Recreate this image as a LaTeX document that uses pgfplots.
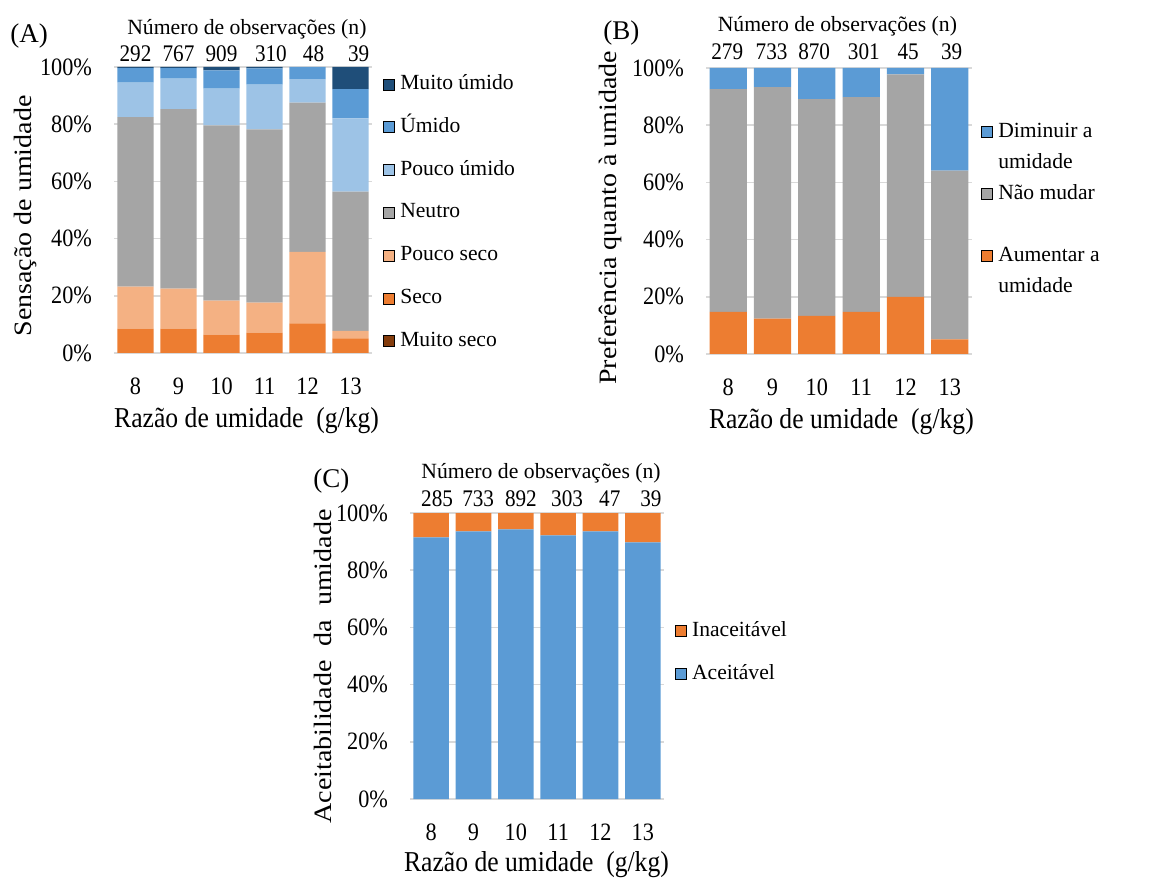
\documentclass[border=0pt]{standalone}
\usepackage{fontspec}
\setmainfont{Liberation Serif}
\newfontfamily\nf{Liberation Serif}[FakeStretch=0.89]
\newfontfamily\wf{Liberation Serif}[FakeStretch=1.12]
\usepackage{pgfplots}
\usepackage{pgfplotstable}
\pgfplotsset{compat=1.18}

\definecolor{mu}{HTML}{1F4E79}
\definecolor{um}{HTML}{5B9BD5}
\definecolor{pu}{HTML}{9DC3E6}
\definecolor{ne}{HTML}{A5A5A5}
\definecolor{ps}{HTML}{F4B183}
\definecolor{se}{HTML}{ED7D31}
\definecolor{ms}{HTML}{843C0C}
\definecolor{gridc}{HTML}{D9D9D9}

\newcommand{\tickf}{\nf\fontsize{12.5pt}{14pt}\selectfont}
\newcommand{\cntf}{\nf\fontsize{11.9pt}{14pt}\selectfont}
\newcommand{\ttlf}{\rmfamily\fontsize{10.85pt}{13pt}\selectfont}
\newcommand{\legf}{\fontsize{10.8pt}{13pt}\selectfont}
\newcommand{\xlf}{\nf\fontsize{14.4pt}{17pt}\selectfont}
\newcommand{\ylf}{\wf\fontsize{12.5pt}{15pt}\selectfont}
\newcommand{\panf}{\fontsize{13.5pt}{16pt}\selectfont}

% Panel A: sensação (%), x = 0..5 -> 8..13 g/kg
\pgfplotstableread{
x ms se ps ne pu um mu
0 0 8.5 14.7 59.3 12.0 5.1 0.4
1 0 8.5 14.0 62.8 10.6 3.7 0.4
2 0 6.4 11.9 61.3 12.8 6.4 1.2
3 0 7.1 10.5 60.6 15.6 5.7 0.5
4 0 10.4 25.0 52.1 8.3 4.2 0.0
5 0 5.1 2.6 48.7 25.6 10.3 7.7
}\tabA
% Panel B: preferência (%)
\pgfplotstableread{
x aum nao dim
0 14.7 77.9 7.4
1 12.4 80.9 6.7
2 13.3 75.8 10.9
3 14.7 75.1 10.2
4 20.0 77.8 2.2
5 5.1 59.0 35.9
}\tabB
% Panel C: aceitabilidade (%)
\pgfplotstableread{
x ac inac
0 91.5 8.5
1 93.6 6.4
2 94.3 5.7
3 92.2 7.8
4 93.6 6.4
5 89.7 10.3
}\tabC

\pgfplotsset{
  panel/.style={
    scale only axis, anchor=south west,
    ybar stacked, bar width=0.84,
    xmin=-0.5, xmax=5.5, ymin=0, ymax=100,
    enlargelimits=false,
    xtick={0,...,5}, xticklabels={8,9,10,11,12,13},
    ytick={0,20,...,100}, yticklabels={0\%,20\%,40\%,60\%,80\%,100\%},
    ymajorgrids, major grid style={draw=gridc, line width=0.8pt},
    axis line style={draw=none},
    major tick length=0pt,
    tick label style={font=\tickf},
    xticklabel style={yshift=-9pt},
    yticklabel style={xshift=-7.5pt},
    clip=false,
    legend cell align=left,
    legend image code/.code={\fill[##1] (0pt,-2.75pt) rectangle (5.5pt,2.75pt);},
    legend style={draw=none, fill=none, inner sep=0pt, anchor=north west,
      column sep=2.5pt, font=\legf,
      nodes={inner sep=0pt, text height=8pt, text depth=3pt}},
    xlabel style={font=\xlf, anchor=base},
    ylabel style={font=\ylf, anchor=base},
  },
}

\begin{document}
\begin{tikzpicture}
\path[use as bounding box] (0,0) rectangle (574.5pt,439pt);

% ---------------- (A) ----------------
\begin{axis}[panel,
  at={(57pt,262.5pt)}, width=129pt, height=143pt,
  xlabel={Razão de umidade\ \ (g/kg)},
  xlabel style={at={(axis description cs:0.514,-0.262)}},
  ylabel={Sensação de umidade},
  ylabel style={at={(axis description cs:-0.318,0.479)}},
  legend style={at={(axis description cs:1.043,0.979)}, row sep=10.4pt},
]
\addplot[fill=ms, draw=none, forget plot] table[x=x,y=ms]{\tabA};
\addplot[fill=se, draw=none, forget plot] table[x=x,y=se]{\tabA};
\addplot[fill=ps, draw=none, forget plot] table[x=x,y=ps]{\tabA};
\addplot[fill=ne, draw=none, forget plot] table[x=x,y=ne]{\tabA};
\addplot[fill=pu, draw=none, forget plot] table[x=x,y=pu]{\tabA};
\addplot[fill=um, draw=none, forget plot] table[x=x,y=um]{\tabA};
\addplot[fill=mu, draw=none, forget plot] table[x=x,y=mu]{\tabA};
\addlegendimage{fill=mu}\addlegendentry{Muito úmido}
\addlegendimage{fill=um}\addlegendentry{Úmido}
\addlegendimage{fill=pu}\addlegendentry{Pouco úmido}
\addlegendimage{fill=ne}\addlegendentry{Neutro}
\addlegendimage{fill=ps}\addlegendentry{Pouco seco}
\addlegendimage{fill=se}\addlegendentry{Seco}
\addlegendimage{fill=ms}\addlegendentry{Muito seco}
\node[anchor=base, font=\ttlf, inner sep=0pt] at (axis description cs:0.515,1.115) {Número de observações (n)};
\node[anchor=base, font=\cntf] at (axis cs:0,101.75) {292};
\node[anchor=base, font=\cntf] at (axis cs:1,101.75) {767};
\node[anchor=base, font=\cntf] at (axis cs:2,101.75) {909};
\node[anchor=base, font=\cntf] at (axis cs:3.15,101.75) {310};
\node[anchor=base, font=\cntf] at (axis cs:4.14,101.75) {48};
\node[anchor=base, font=\cntf] at (axis cs:5.19,101.75) {39};
\end{axis}

% ---------------- (B) ----------------
\begin{axis}[panel,
  at={(353pt,262pt)}, width=133pt, height=143pt,
  xlabel={Razão de umidade\ \ (g/kg)},
  xlabel style={at={(axis description cs:0.509,-0.259)}},
  ylabel={Preferência quanto à umidade},
  ylabel style={at={(axis description cs:-0.338,0.476)}},
  legend style={at={(axis description cs:1.034,0.815)}, row sep=4.5pt},
]
\addplot[fill=se, draw=none, forget plot] table[x=x,y=aum]{\tabB};
\addplot[fill=ne, draw=none, forget plot] table[x=x,y=nao]{\tabB};
\addplot[fill=um, draw=none, forget plot] table[x=x,y=dim]{\tabB};
\addlegendimage{fill=um}\addlegendentry{Diminuir a}
\addlegendimage{empty legend}\addlegendentry{umidade}
\addlegendimage{fill=ne}\addlegendentry{Não mudar}
\addlegendimage{empty legend}\addlegendentry{}
\addlegendimage{fill=se}\addlegendentry{Aumentar a}
\addlegendimage{empty legend}\addlegendentry{umidade}
\node[anchor=base, font=\ttlf, inner sep=0pt] at (axis description cs:0.494,1.126) {Número de observações (n)};
\node[anchor=base, font=\cntf] at (axis cs:-0.02,102.8) {279};
\node[anchor=base, font=\cntf] at (axis cs:0.98,102.8) {733};
\node[anchor=base, font=\cntf] at (axis cs:1.94,102.8) {870};
\node[anchor=base, font=\cntf] at (axis cs:3.06,102.8) {301};
\node[anchor=base, font=\cntf] at (axis cs:4.06,102.8) {45};
\node[anchor=base, font=\cntf] at (axis cs:5.04,102.8) {39};
\end{axis}

% ---------------- (C) ----------------
\begin{axis}[panel,
  at={(205pt,39.5pt)}, width=127pt, height=143pt,
  xlabel={Razão de umidade\ \ (g/kg)},
  xlabel style={at={(axis description cs:0.498,-0.254)}},
  ylabel={Aceitabilidade\ \ da\ \ umidade},
  ylabel style={at={(axis description cs:-0.311,0.463)}},
  legend style={at={(axis description cs:1.043,0.626)}, row sep=10.5pt},
]
\addplot[fill=um, draw=none, forget plot] table[x=x,y=ac]{\tabC};
\addplot[fill=se, draw=none, forget plot] table[x=x,y=inac]{\tabC};
\addlegendimage{fill=se}\addlegendentry{Inaceitável}
\addlegendimage{fill=um}\addlegendentry{Aceitável}
\node[anchor=base, font=\ttlf, inner sep=0pt] at (axis description cs:0.516,1.122) {Número de observações (n)};
\node[anchor=base, font=\cntf] at (axis cs:0.14,102.1) {285};
\node[anchor=base, font=\cntf] at (axis cs:1.11,102.1) {733};
\node[anchor=base, font=\cntf] at (axis cs:2.12,102.1) {892};
\node[anchor=base, font=\cntf] at (axis cs:3.21,102.1) {303};
\node[anchor=base, font=\cntf] at (axis cs:4.22,102.1) {47};
\node[anchor=base, font=\cntf] at (axis cs:5.19,102.1) {39};
\end{axis}

\node[anchor=base west, font=\panf, inner sep=0pt] at (5pt,417.5pt) {(A)};
\node[anchor=base west, font=\panf, inner sep=0pt] at (301.5pt,419pt) {(B)};
\node[anchor=base west, font=\panf, inner sep=0pt] at (156.5pt,195pt) {(C)};
\end{tikzpicture}
\end{document}
